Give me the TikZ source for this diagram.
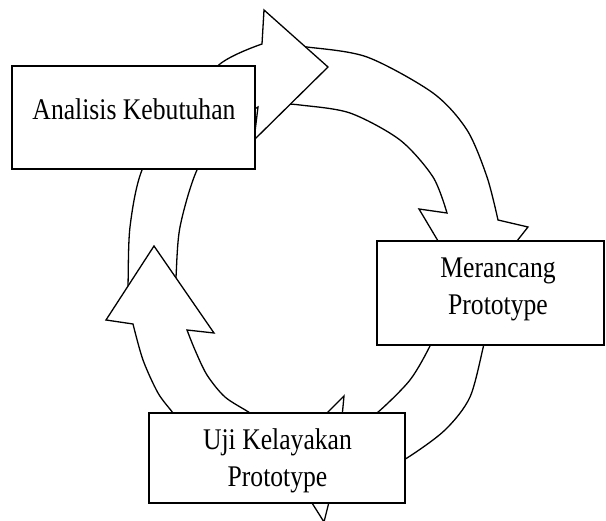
\documentclass[tikz,border=0pt]{standalone}
\usepackage{fontspec}
\setmainfont{Liberation Serif}[FakeStretch=0.855]
\begin{document}
\begin{tikzpicture}[x=1pt,y=-1pt,
  arrowshape/.style={draw=black, fill=white, line width=1.3pt, line join=miter},
  boxshape/.style={draw=black, fill=white, line width=1.8pt, inner sep=0pt},
  boxtext/.style={font=\fontsize{30}{37}\selectfont, align=center, anchor=base, inner sep=0pt}]
\useasboundingbox (0,0) rectangle (606,521);
% arrow 2: top -> Merancang
\draw[arrowshape] (290,46) -- plot[smooth] coordinates {(290,46) (307,47) (367,57) (433,93) (467,130) (487,177) (498,220)}
  -- (528,227) -- (472,298) -- (419,209) -- (447,213)
  -- plot[smooth] coordinates {(447,213) (433,177) (400,140) (350,113) (300,105) (283,104)} -- cycle;
% arrow 3: Merancang -> Uji
\draw[arrowshape] (490,320) -- plot[smooth] coordinates {(490,320) (484,344) (470,397) (445,430) (407,458) (370,478) (332,490)}
  -- (324,522) -- (283,457) -- (344,396) -- (341,428)
  -- plot[smooth] coordinates {(341,428) (360,422) (377,413) (410,380) (431,344) (440,320)} -- cycle;
% arrow 1: left -> Analisis -> top
\draw[arrowshape] (127,300) -- plot[smooth] coordinates {(127,300) (128,285) (130,227) (142,170) (175,115) (220,64) (262,44)}
  -- (264,10) -- (328,67) -- (254,140) -- (258,107)
  -- plot[smooth] coordinates {(258,107) (225,130) (197,170) (180,227) (176,277) (175,300)} -- cycle;
% arrow 4: Uji -> Analisis
\draw[arrowshape] (185,430) -- plot[smooth] coordinates {(185,430) (173,413) (158,393) (143,360) (133,324)}
  -- (106,320) -- (154,246) -- (214,333) -- (187,330)
  -- plot[smooth] coordinates {(187,330) (195,350) (207,375) (225,397) (250,413) (270,428)} -- cycle;
% boxes
\node[boxshape, minimum width=243pt, minimum height=103pt] (analisis) at (133.5,117.5) {};
\node[boxshape, minimum width=227pt, minimum height=104pt] (merancang) at (490.5,293) {};
\node[boxshape, minimum width=256pt, minimum height=90pt] (uji) at (277,458) {};
% texts (base anchor = baseline of the last line)
\node[boxtext] (t1) at (134,120) {Analisis Kebutuhan};
\node[boxtext] (t2) at (498,315) {Merancang\\Prototype};
\node[boxtext] (t3) at (277.5,487) {Uji Kelayakan\\Prototype};
\end{tikzpicture}
\end{document}
